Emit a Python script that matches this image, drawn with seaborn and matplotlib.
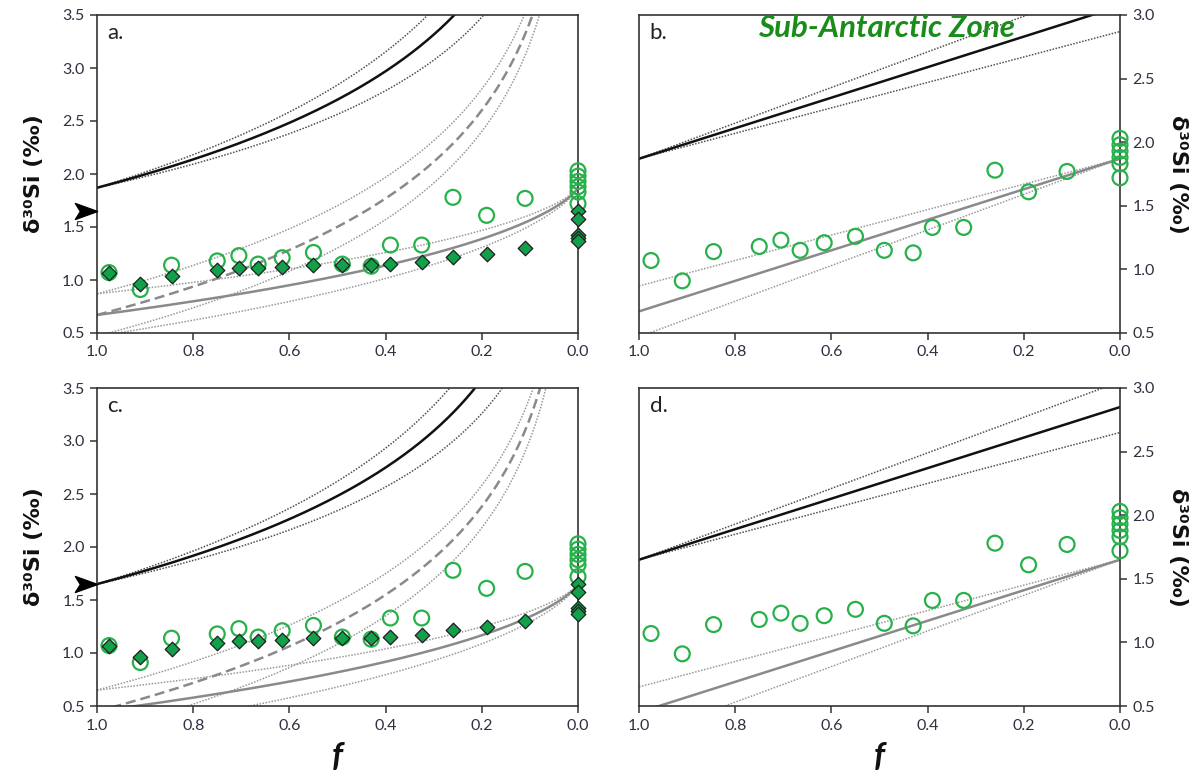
import numpy as np
import pandas as pd
import matplotlib
matplotlib.use("Agg")
import matplotlib.pyplot as plt
from matplotlib.path import Path
import matplotlib.transforms as mtransforms
import seaborn as sns

# ---------------- data ----------------
f_obs = [0.975, 0.91, 0.845, 0.75, 0.705, 0.665, 0.615, 0.55, 0.49, 0.43,
         0.39, 0.325, 0.26, 0.19, 0.11, 0.0, 0.0, 0.0, 0.0, 0.0, 0.0]
circles_d30 = [1.07, 0.91, 1.14, 1.18, 1.23, 1.15, 1.21, 1.26, 1.15, 1.13,
               1.33, 1.33, 1.78, 1.61, 1.77, 2.03, 1.98, 1.93, 1.88, 1.83, 1.72]
f_dia = [0.975, 0.91, 0.845, 0.75, 0.705, 0.665, 0.615, 0.55, 0.49, 0.43,
         0.39, 0.325, 0.26, 0.19, 0.11, 0.0, 0.0, 0.0, 0.0, 0.0]
diamonds_d30 = [1.07, 0.96, 1.04, 1.09, 1.11, 1.11, 1.12, 1.14, 1.14, 1.14,
                1.15, 1.17, 1.22, 1.25, 1.30, 1.65, 1.58, 1.42, 1.40, 1.37]

# model parameters (initial delta30Si of the source, fractionation factor +/- error)
delta0_top = 1.87      # panels a, b
delta0_bottom = 1.65   # panels c, d
epsilon = 1.2
epsilon_low = 1.0
epsilon_high = 1.4
arrow_value = 1.65     # arrow marker on panels a and c

panel_letters = ["a.", "b.", "c.", "d."]
title_text = "Sub-Antarctic Zone"
xticks = [1.0, 0.8, 0.6, 0.4, 0.2, 0.0]
yticks_left = [0.5, 1.0, 1.5, 2.0, 2.5, 3.0, 3.5]
yticks_right = [0.5, 1.0, 1.5, 2.0, 2.5, 3.0]
ylabel_text = "δ³⁰Si (‰)"
xlabel_text = "f"

# ---------------- model curves ----------------
fgrid = np.linspace(1.0, 0.0, 3001)
fsafe = np.clip(fgrid, 1e-6, 1 - 1e-9)


def closed_substrate(d0, e):
    return d0 - e * np.log(fsafe)


def closed_inst_product(d0, e, offset):
    return d0 - e * np.log(fsafe) - offset


def closed_acc_product(d0, e):
    return d0 + e * fsafe * np.log(fsafe) / (1 - fsafe)


def open_substrate(d0, e):
    return d0 + e * (1 - fgrid)


def open_product(d0, e):
    return d0 - e * fgrid


# ---------------- styling ----------------
sns.set_theme(style="ticks")
plt.rcParams["font.family"] = ["Lato", "DejaVu Sans"]
plt.rcParams["axes.linewidth"] = 1.2
plt.rcParams["axes.edgecolor"] = "#333333"

tick_color = "#2f3040"
black_c = "#111111"
black_env = "#505050"
grey_c = "#8a8a8a"
grey_env = "#999999"
circle_c = "#27b14b"
dia_face = "#12a04a"
dia_edge = "#1e1e1e"
dot = (0, (1, 1))

fig = plt.figure(figsize=(11.99, 7.76), dpi=100)
W, H = 1199, 776
def pos(l, r, t, b):
    return [l / W, 1 - b / H, (r - l) / W, (b - t) / H]

ax_a = fig.add_axes(pos(97, 578, 15, 333))
ax_b = fig.add_axes(pos(639, 1120, 15, 333))
ax_c = fig.add_axes(pos(97, 578, 388, 706))
ax_d = fig.add_axes(pos(639, 1120, 388, 706))
axes = [ax_a, ax_b, ax_c, ax_d]


def line(ax, y, color, lw, ls="-"):
    df = pd.DataFrame({"f": fgrid, "d": y})
    sns.lineplot(data=df, x="f", y="d", ax=ax, color=color, lw=lw,
                 linestyle=ls, sort=False, estimator=None)


arrow_path = Path([(1.0, 0.0), (-1.0, 0.72), (-0.55, 0.0), (-1.0, -0.72), (1.0, 0.0)],
                  [Path.MOVETO, Path.LINETO, Path.LINETO, Path.LINETO, Path.CLOSEPOLY])

obs_df = pd.DataFrame({"f": f_obs, "d": circles_d30})
dia_df = pd.DataFrame({"f": f_dia, "d": diamonds_d30})

for i, ax in enumerate(axes):
    d0 = delta0_top if i < 2 else delta0_bottom
    closed = i in (0, 2)
    if closed:
        for e in (epsilon_low, epsilon_high):
            line(ax, closed_substrate(d0, e), black_env, 1.1, dot)
            line(ax, closed_inst_product(d0, epsilon, e), grey_env, 1.1, dot)
            line(ax, closed_acc_product(d0, e), grey_env, 1.1, dot)
        line(ax, closed_substrate(d0, epsilon), black_c, 1.8)
        line(ax, closed_inst_product(d0, epsilon, epsilon), grey_c, 1.8, (0, (4, 2)))
        line(ax, closed_acc_product(d0, epsilon), grey_c, 1.8)
    else:
        for e in (epsilon_low, epsilon_high):
            line(ax, open_substrate(d0, e), black_env, 1.1, dot)
            line(ax, open_product(d0, e), grey_env, 1.1, dot)
        line(ax, open_substrate(d0, epsilon), black_c, 1.8)
        line(ax, open_product(d0, epsilon), grey_c, 1.8)

    sns.scatterplot(data=obs_df, x="f", y="d", ax=ax, marker="o", s=115,
                    facecolor="none", edgecolor=circle_c, linewidth=1.6,
                    zorder=5, clip_on=False)
    if closed:
        sns.scatterplot(data=dia_df, x="f", y="d", ax=ax, marker="D", s=55,
                        color=dia_face, edgecolor=dia_edge, linewidth=0.9,
                        zorder=6, clip_on=False)
        trans = mtransforms.blended_transform_factory(ax.transAxes, ax.transData)
        ax.plot([-0.022], [arrow_value], marker=arrow_path, markersize=16,
                color="black", transform=trans, clip_on=False, zorder=7)

    ax.set_xlim(1.0, 0.0)
    ax.set_xticks(xticks)
    ax.set_xticklabels([f"{v:.1f}" for v in xticks])
    if closed:
        ax.set_ylim(0.5, 3.5)
        ax.set_yticks(yticks_left)
        ax.set_yticklabels([f"{v:.1f}" for v in yticks_left])
    else:
        ax.set_ylim(0.5, 3.0)
        ax.yaxis.tick_right()
        ax.yaxis.set_label_position("right")
        ax.set_yticks(yticks_right)
        ax.set_yticklabels([f"{v:.1f}" for v in yticks_right])
    for s in ax.spines.values():
        s.set_visible(True)
        s.set_color("#333333")
        s.set_linewidth(1.2)
    ax.tick_params(direction="out", length=5, width=1.1, color="#333333",
                   labelsize=11.5, labelcolor=tick_color, pad=4)
    ax.set_xlabel("")
    ax.set_ylabel("")
    ax.text(0.022, 0.975, panel_letters[i], transform=ax.transAxes,
            ha="left", va="top", fontsize=16, color="#222222")

for ax in (ax_a, ax_c):
    ax.set_ylabel(ylabel_text, fontsize=16, fontweight="bold", labelpad=13,
                  color="#111111", family=["DejaVu Sans"])
for ax in (ax_b, ax_d):
    ax.set_ylabel(ylabel_text, fontsize=16, fontweight="bold", rotation=270,
                  labelpad=24, color="#111111", family=["DejaVu Sans"])
for ax in (ax_c, ax_d):
    ax.set_xlabel(xlabel_text, fontsize=24, fontweight="bold", style="italic",
                  labelpad=7, color="#111111")

ax_b.text(0.515, 0.96, title_text, transform=ax_b.transAxes, ha="center",
          va="center", fontsize=22.5, fontweight="bold", style="italic",
          color="#1a8c1a", zorder=8)

fig.savefig("out.png", dpi=100, facecolor="white")
